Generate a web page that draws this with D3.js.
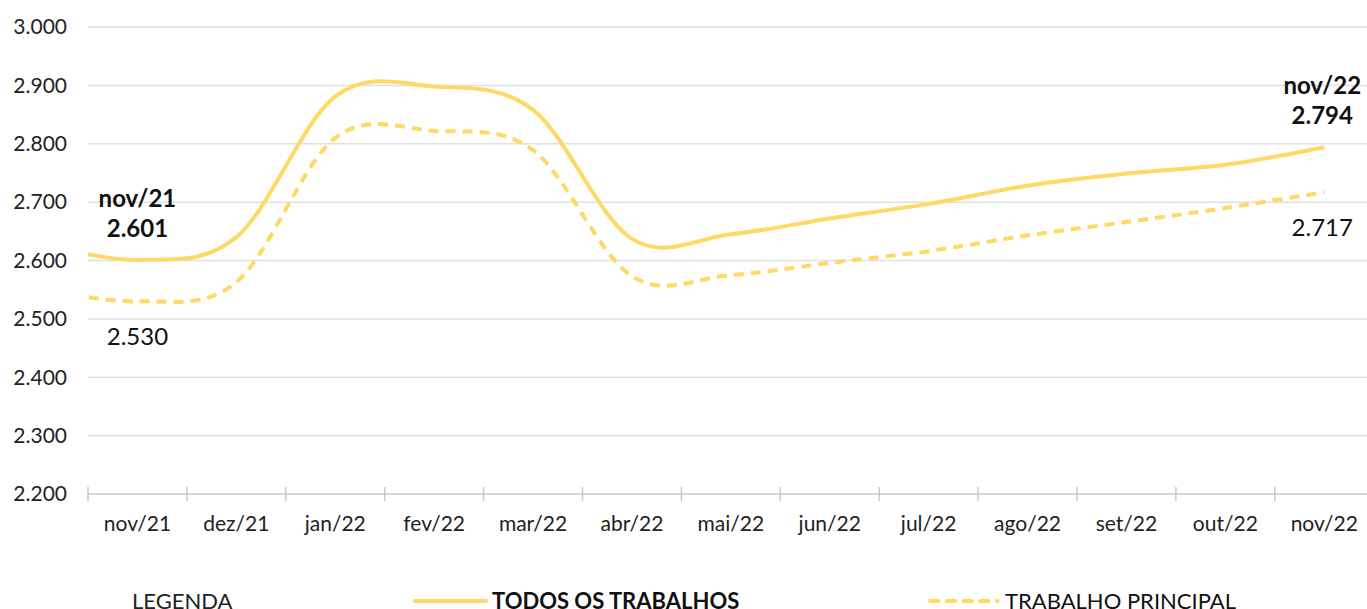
<!DOCTYPE html>
<html>
<head>
<meta charset="utf-8">
<script src="https://cdn.jsdelivr.net/npm/d3@7"></script>
<style>
  body { margin: 0; background: #fff; }
  svg { display: block; font-family: Lato, "Noto Sans", sans-serif; }
</style>
</head>
<body>
<div id="chart"></div>
<script>
const width = 1367;
const height = 609;
const margin = { top: 27, left: 88, bottom: 115, right: 0 };

// data (valores em R$)
const months = ['nov/21', 'dez/21', 'jan/22', 'fev/22', 'mar/22', 'abr/22', 'mai/22',
  'jun/22', 'jul/22', 'ago/22', 'set/22', 'out/22', 'nov/22'];
const todosTrabalhos = [2601, 2640, 2881, 2898, 2858, 2637, 2645, 2672, 2697, 2728, 2749, 2764, 2794];
const trabalhoPrincipal = [2530, 2563, 2810, 2822, 2789, 2573, 2575, 2596, 2616, 2643, 2666, 2690, 2717];
// month before nov/21, only its tail is visible at the left edge
const leadTodos = 2630;
const leadPrincipal = 2552;
const yTicks = [2200, 2300, 2400, 2500, 2600, 2700, 2800, 2900, 3000];

const pt = d3.formatLocale({ decimal: ',', thousands: '.', grouping: [3], currency: ['R$', ''] });
const fmt = pt.format(',d');

const color = '#ffd966';

const svg = d3.select('#chart').append('svg')
  .attr('width', width)
  .attr('height', height);

const x = d3.scaleBand()
  .domain(months)
  .range([margin.left, margin.left + 98.9 * months.length]);

const y = d3.scaleLinear()
  .domain([2200, 3000])
  .range([height - margin.bottom, margin.top]);

const cx = (i) => x.range()[0] + x.step() * (i + 0.5);

// grid
svg.append('g').selectAll('line').data(yTicks.slice(1))
  .join('line')
    .attr('x1', margin.left).attr('x2', width)
    .attr('y1', (d) => y(d)).attr('y2', (d) => y(d))
    .attr('stroke', '#e0e0e0')
    .attr('stroke-width', 1.5);

// y labels
svg.append('g').selectAll('text').data(yTicks)
  .join('text')
    .attr('x', 67)
    .attr('y', (d) => y(d))
    .attr('dy', '0.35em')
    .attr('text-anchor', 'end')
    .attr('font-size', 21)
    .attr('fill', '#222')
    .text((d) => fmt(d));

// x axis
const xAxis = svg.append('g')
  .attr('transform', `translate(0,${y(2200)})`)
  .call(d3.axisBottom(x).tickSize(0).tickPadding(22));
xAxis.select('.domain').attr('stroke', '#c8c8c8').attr('stroke-width', 1.5)
  .attr('d', `M${margin.left},0H${width}`);
xAxis.selectAll('text').attr('font-size', 21).attr('fill', '#222')
  .attr('font-family', 'Lato, "Noto Sans", sans-serif');
xAxis.selectAll('line.sep').data(months)
  .join('line').attr('class', 'sep')
    .attr('x1', (d) => x(d)).attr('x2', (d) => x(d))
    .attr('y1', -7).attr('y2', 7)
    .attr('stroke', '#c8c8c8')
    .attr('stroke-width', 1.5);

// lines
svg.append('clipPath').attr('id', 'plot-clip')
  .append('rect')
    .attr('x', margin.left).attr('y', 0)
    .attr('width', width - margin.left).attr('height', height);

const line = d3.line()
  .x((d) => cx(d.i))
  .y((d) => y(d.v))
  .curve(d3.curveCardinal.tension(0));

const series = [
  { name: 'TODOS OS TRABALHOS', lead: leadTodos, values: todosTrabalhos, dash: null },
  { name: 'TRABALHO PRINCIPAL', lead: leadPrincipal, values: trabalhoPrincipal, dash: '10,7' }
];

const plot = svg.append('g').attr('clip-path', 'url(#plot-clip)');
series.forEach((s) => {
  const pts = [{ i: -1, v: s.lead }].concat(s.values.map((v, i) => ({ i, v })));
  plot.append('path').datum(pts)
    .attr('d', line)
    .attr('fill', 'none')
    .attr('stroke', color)
    .attr('stroke-width', 4)
    .attr('stroke-dasharray', s.dash);
});

// annotations
const last = months.length - 1;
const notes = [
  { x: cx(0), y: 207, text: months[0], bold: true },
  { x: cx(0), y: 237, text: fmt(todosTrabalhos[0]), bold: true },
  { x: cx(0), y: 345, text: fmt(trabalhoPrincipal[0]), bold: false },
  { x: cx(last) - 2, y: 94, text: months[last], bold: true },
  { x: cx(last) - 2, y: 124, text: fmt(todosTrabalhos[last]), bold: true },
  { x: cx(last) - 2, y: 236, text: fmt(trabalhoPrincipal[last]), bold: false }
];
svg.append('g').selectAll('text').data(notes)
  .join('text')
    .attr('x', (d) => d.x)
    .attr('y', (d) => d.y)
    .attr('text-anchor', 'middle')
    .attr('font-size', 24)
    .attr('font-weight', (d) => d.bold ? 700 : 400)
    .attr('fill', '#111')
    .text((d) => d.text);

// legend
const legend = svg.append('g');
legend.append('text')
  .attr('x', 132).attr('y', 609)
  .attr('font-size', 22).attr('fill', '#222')
  .text('LEGENDA');

const legendPos = [415, 928];
series.forEach((s, k) => {
  const g = legend.append('g').attr('transform', `translate(${legendPos[k]},601)`);
  g.append('line')
    .attr('x1', s.dash ? 2 : 0).attr('x2', s.dash ? 70 : 71)
    .attr('stroke', color)
    .attr('stroke-width', 4)
    .attr('stroke-linecap', 'round')
    .attr('stroke-dasharray', s.dash ? '8.5,8.2' : null);
  g.append('text')
    .attr('x', k === 0 ? 77 : 77).attr('y', 8)
    .attr('font-size', 22)
    .attr('font-weight', k === 0 ? 700 : 400)
    .attr('fill', '#111')
    .text(s.name);
});
</script>
</body>
</html>
